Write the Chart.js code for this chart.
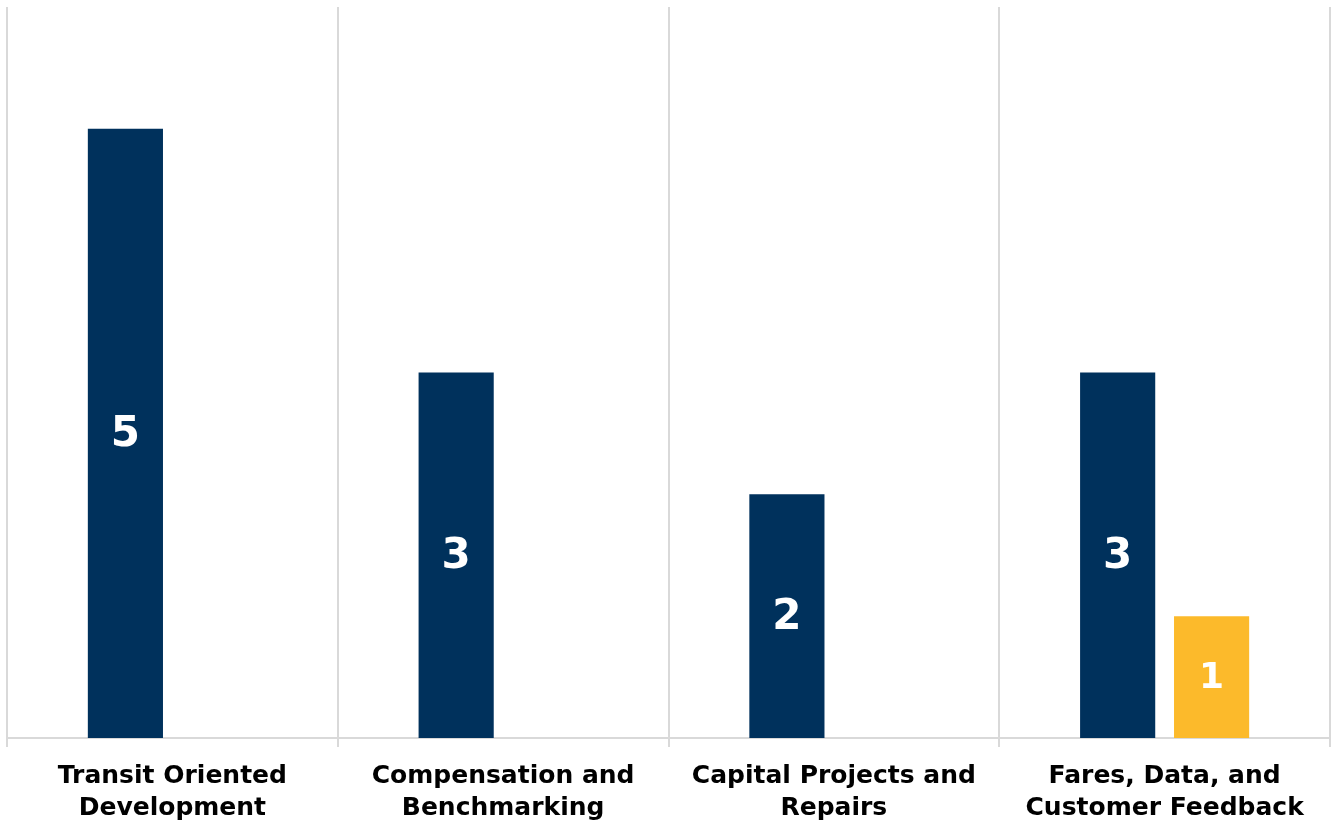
<!DOCTYPE html>
<html>
<head>
<meta charset="utf-8">
<script src="https://cdn.jsdelivr.net/npm/chart.js@4/dist/chart.umd.min.js"></script>
<style>
  body { margin: 0; background: #fff; }
  #wrap { width: 1331px; height: 825px; }
</style>
</head>
<body>
<div id="wrap"><canvas id="myChart"></canvas></div>
<script>
let categories = [
    ['Transit Oriented', 'Development'],
    ['Compensation and', 'Benchmarking'],
    ['Capital Projects and', 'Repairs'],
    ['Fares, Data, and', 'Customer Feedback']
];
let navyValues = [5, 3, 2, 3];
let goldValues = [null, null, null, 1];

// white counts written in the middle of each bar
const barLabels = {
    id: 'barLabels',
    afterDatasetsDraw(chart) {
        const ctx = chart.ctx;
        ctx.save();
        ctx.fillStyle = '#fff';
        ctx.textAlign = 'center';
        ctx.textBaseline = 'middle';
        chart.data.datasets.forEach((ds, i) => {
            const meta = chart.getDatasetMeta(i);
            ctx.font = 'bold ' + ds.labelSize + 'px "DejaVu Sans"';
            meta.data.forEach((bar, j) => {
                const v = ds.data[j];
                if (v == null || v === 0) return;
                ctx.fillText(String(v), bar.x, (bar.y + bar.base) / 2 + 2);
            });
        });
        ctx.restore();
    }
};

var ctx = document.getElementById('myChart').getContext('2d');
var chart = new Chart(ctx, {
    type: 'bar',
    data: {
        labels: categories,
        datasets: [
            {
                data: navyValues,
                backgroundColor: '#00315C',
                labelSize: 42,
                categoryPercentage: 0.568,
                barPercentage: 0.8
            },
            {
                data: goldValues,
                backgroundColor: '#FCBA2B',
                labelSize: 36,
                categoryPercentage: 0.568,
                barPercentage: 0.8
            }
        ]
    },
    options: {
        responsive: true,
        maintainAspectRatio: false,
        animation: false,
        layout: { padding: { left: 7, right: 1, top: 7, bottom: -12 } },
        plugins: {
            legend: { display: false },
            tooltip: { enabled: false }
        },
        scales: {
            x: {
                grid: {
                    offset: true,
                    color: '#d9d9d9',
                    lineWidth: 2,
                    tickLength: 9
                },
                border: { color: '#d9d9d9', width: 2 },
                ticks: {
                    color: '#000',
                    autoSkip: false,
                    maxRotation: 0,
                    padding: 13,
                    font: { family: '"DejaVu Sans"', weight: 'bold', size: 25, lineHeight: 1.28 }
                }
            },
            y: {
                display: false,
                min: 0,
                max: 6
            }
        }
    },
    plugins: [barLabels]
});
</script>
</body>
</html>
